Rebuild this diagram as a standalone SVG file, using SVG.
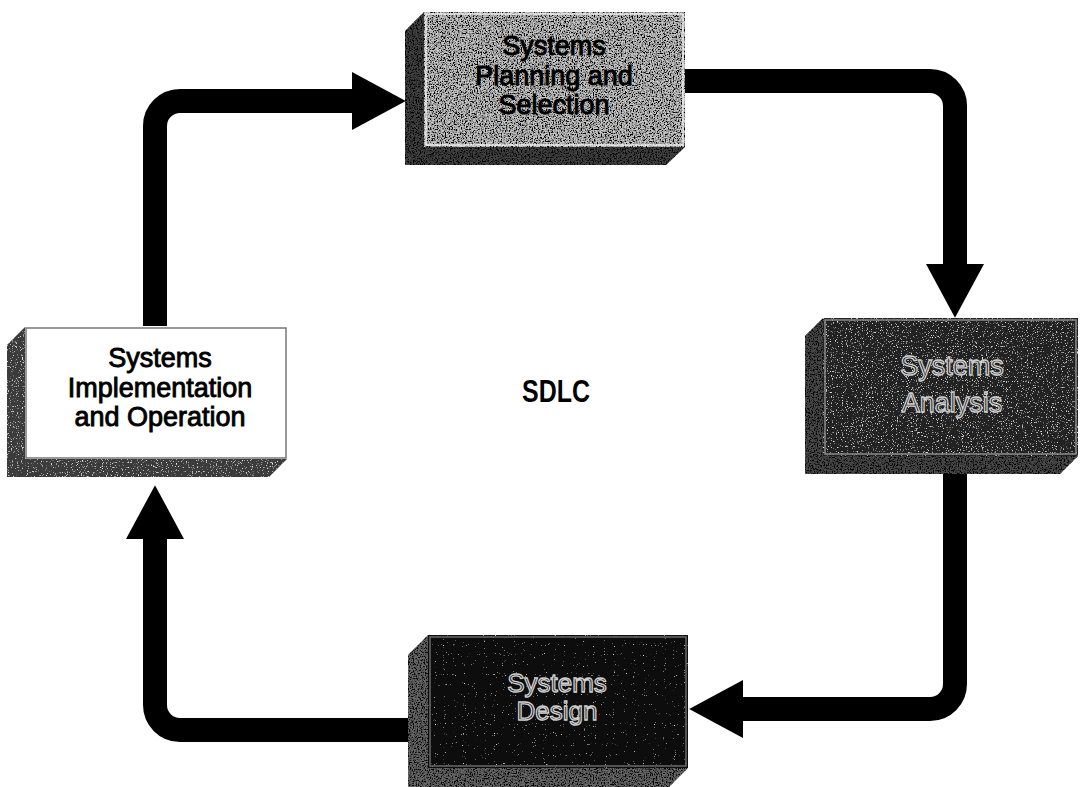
<svg xmlns="http://www.w3.org/2000/svg" width="1082" height="787" viewBox="0 0 1082 787">
  <defs>
    <style>
      .label { font-family: "Liberation Sans", Arial, sans-serif; font-size: 27px; text-anchor: middle; }
      .dark-label { fill: #151515; stroke: #cfcfcf; stroke-width: 1.3; }
      .light-label { fill: #000; stroke: #000; stroke-width: 0.9; }
      .flow { fill: none; stroke: #000; stroke-width: 24; stroke-linecap: butt; stroke-linejoin: round; }
      .rim { fill: none; stroke-width: 1.5; }
    </style>
    <!-- black specks sprinkled over a surface -->
    <filter id="grainDark" x="0" y="0" width="100%" height="100%">
      <feTurbulence type="fractalNoise" baseFrequency="0.75" numOctaves="2" seed="4" result="n"/>
      <feColorMatrix in="n" type="matrix" values="0 0 0 0 0  0 0 0 0 0  0 0 0 0 0  4 0 0 0 -1.6" result="dots"/>
      <feComposite in="dots" in2="SourceAlpha" operator="in" result="clip"/>
      <feMerge><feMergeNode in="SourceGraphic"/><feMergeNode in="clip"/></feMerge>
    </filter>
    <!-- white specks sprinkled over a surface -->
    <filter id="grainLight" x="0" y="0" width="100%" height="100%">
      <feTurbulence type="fractalNoise" baseFrequency="0.8" numOctaves="2" seed="9" result="n"/>
      <feColorMatrix in="n" type="matrix" values="0 0 0 0 1  0 0 0 0 1  0 0 0 0 1  4 0 0 0 -2.45" result="dots"/>
      <feComposite in="dots" in2="SourceAlpha" operator="in" result="clip"/>
      <feMerge><feMergeNode in="SourceGraphic"/><feMergeNode in="clip"/></feMerge>
    </filter>
    <!-- sparse white stars for the darkest face -->
    <filter id="grainSparse" x="0" y="0" width="100%" height="100%">
      <feTurbulence type="fractalNoise" baseFrequency="0.9" numOctaves="1" seed="2" result="n"/>
      <feColorMatrix in="n" type="matrix" values="0 0 0 0 1  0 0 0 0 1  0 0 0 0 1  6 0 0 0 -4.2" result="dots"/>
      <feComposite in="dots" in2="SourceAlpha" operator="in" result="clip"/>
      <feMerge><feMergeNode in="SourceGraphic"/><feMergeNode in="clip"/></feMerge>
    </filter>
    <marker id="head" markerUnits="userSpaceOnUse" markerWidth="54" markerHeight="58" viewBox="0 0 52 56" refX="1" refY="28" orient="auto">
      <path d="M0,0 L52,28 L0,56 Z" fill="#000"/>
    </marker>
  </defs>

  <rect width="1082" height="787" fill="#fff"/>

  <!-- connectors -->
  <g id="connectors">
    <path class="flow" d="M155,326 V126 A25,25 0 0 1 180,101 H353" marker-end="url(#head)"/>
    <path class="flow" d="M684,81 H930 A25,25 0 0 1 955,106 V265" marker-end="url(#head)"/>
    <path class="flow" d="M955,474 V684 A25,25 0 0 1 930,709 H742" marker-end="url(#head)"/>
    <path class="flow" d="M408,730 H180 A25,25 0 0 1 155,705 V538" marker-end="url(#head)"/>
  </g>

  <!-- Systems Planning and Selection -->
  <g id="node-planning">
    <polygon points="424,12 685,12 685,147 666,165 405,165 405,31" fill="#444" filter="url(#grainDark)"/>
    <rect x="424" y="12" width="261" height="135" fill="#c8c8c8" filter="url(#grainDark)"/>
    <rect class="rim" x="426" y="14" width="257" height="131" stroke="#f0f0f0"/>
    <text class="label light-label" x="554" y="55">Systems</text>
    <text class="label light-label" x="554" y="85">Planning and</text>
    <text class="label light-label" x="554" y="114">Selection</text>
  </g>

  <!-- Systems Analysis -->
  <g id="node-analysis">
    <polygon points="823,318 1078,318 1078,456 1060,474 805,474 805,336" fill="#4e4e4e" filter="url(#grainDark)"/>
    <rect x="823" y="318" width="255" height="138" fill="#222" filter="url(#grainLight)"/>
    <rect class="rim" x="825" y="320" width="251" height="134" stroke="#8a8a8a"/>
    <text class="label dark-label" x="952" y="375">Systems</text>
    <text class="label dark-label" x="952" y="412">Analysis</text>
  </g>

  <!-- Systems Design -->
  <g id="node-design">
    <polygon points="428,635 688,635 688,768 668,788 408,788 408,655" fill="#6a6a6a" filter="url(#grainDark)"/>
    <rect x="428" y="635" width="260" height="133" fill="#0e0e0e" filter="url(#grainSparse)"/>
    <rect class="rim" x="430" y="637" width="256" height="129" stroke="#6a6a6a"/>
    <text class="label dark-label" x="557" y="692" style="font-size:26px">Systems</text>
    <text class="label dark-label" x="557" y="720" style="font-size:26px">Design</text>
  </g>

  <!-- Systems Implementation and Operation -->
  <g id="node-implementation">
    <polygon points="25,327 287,327 287,459 269,477 7,477 7,345" fill="#3a3a3a" filter="url(#grainLight)"/>
    <rect x="25" y="327" width="262" height="132" fill="#ffffff"/>
    <rect class="rim" x="26" y="328" width="260" height="130" stroke="#777"/>
    <text class="label light-label" x="160" y="367">Systems</text>
    <text class="label light-label" x="160" y="397">Implementation</text>
    <text class="label light-label" x="160" y="426">and Operation</text>
  </g>

  <!-- centre caption -->
  <g id="caption">
    <text transform="translate(556,402) scale(0.78,1)" style="font-family:'Liberation Sans', Arial, sans-serif; font-size:32px; font-weight:bold; text-anchor:middle;" fill="#000">SDLC</text>
  </g>
</svg>
